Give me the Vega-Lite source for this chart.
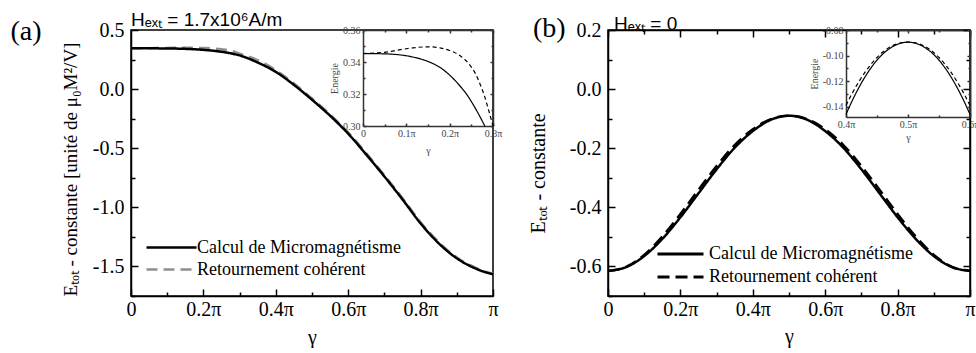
{
 "$schema": "https://vega.github.io/schema/vega-lite/v6.json",
 "padding": {"left": 9, "top": 10, "right": 0, "bottom": 0},
 "spacing": 115,
 "bounds": "flush",
 "datasets": {
  "a_main": [
   {"s":"Retournement cohérent","g":0,"E":0.345},{"s":"Retournement cohérent","g":0.05,"E":0.3462},{"s":"Retournement cohérent","g":0.1,"E":0.3483},{"s":"Retournement cohérent","g":0.15,"E":0.3494},{"s":"Retournement cohérent","g":0.2,"E":0.3472},{"s":"Retournement cohérent","g":0.225,"E":0.3435},{"s":"Retournement cohérent","g":0.25,"E":0.337},{"s":"Retournement cohérent","g":0.275,"E":0.326},{"s":"Retournement cohérent","g":0.3,"E":0.30},{"s":"Retournement cohérent","g":0.35,"E":0.245},{"s":"Retournement cohérent","g":0.4,"E":0.16},{"s":"Retournement cohérent","g":0.45,"E":0.048},{"s":"Retournement cohérent","g":0.5,"E":-0.08},{"s":"Retournement cohérent","g":0.55,"E":-0.215},{"s":"Retournement cohérent","g":0.6,"E":-0.367},{"s":"Retournement cohérent","g":0.65,"E":-0.544},{"s":"Retournement cohérent","g":0.7,"E":-0.729},{"s":"Retournement cohérent","g":0.75,"E":-0.923},{"s":"Retournement cohérent","g":0.8,"E":-1.126},{"s":"Retournement cohérent","g":0.85,"E":-1.295},{"s":"Retournement cohérent","g":0.9,"E":-1.424},{"s":"Retournement cohérent","g":0.925,"E":-1.471},{"s":"Retournement cohérent","g":0.95,"E":-1.509},{"s":"Retournement cohérent","g":0.975,"E":-1.54},{"s":"Retournement cohérent","g":1,"E":-1.561},
   {"s":"Calcul de Micromagnétisme","g":0,"E":0.345},{"s":"Calcul de Micromagnétisme","g":0.05,"E":0.3449},{"s":"Calcul de Micromagnétisme","g":0.1,"E":0.3438},{"s":"Calcul de Micromagnétisme","g":0.15,"E":0.3405},{"s":"Calcul de Micromagnétisme","g":0.2,"E":0.332},{"s":"Calcul de Micromagnétisme","g":0.225,"E":0.3255},{"s":"Calcul de Micromagnétisme","g":0.25,"E":0.316},{"s":"Calcul de Micromagnétisme","g":0.275,"E":0.303},{"s":"Calcul de Micromagnétisme","g":0.3,"E":0.285},{"s":"Calcul de Micromagnétisme","g":0.35,"E":0.225},{"s":"Calcul de Micromagnétisme","g":0.4,"E":0.146},{"s":"Calcul de Micromagnétisme","g":0.45,"E":0.036},{"s":"Calcul de Micromagnétisme","g":0.5,"E":-0.09},{"s":"Calcul de Micromagnétisme","g":0.55,"E":-0.225},{"s":"Calcul de Micromagnétisme","g":0.6,"E":-0.377},{"s":"Calcul de Micromagnétisme","g":0.65,"E":-0.554},{"s":"Calcul de Micromagnétisme","g":0.7,"E":-0.739},{"s":"Calcul de Micromagnétisme","g":0.75,"E":-0.933},{"s":"Calcul de Micromagnétisme","g":0.8,"E":-1.136},{"s":"Calcul de Micromagnétisme","g":0.85,"E":-1.304},{"s":"Calcul de Micromagnétisme","g":0.9,"E":-1.431},{"s":"Calcul de Micromagnétisme","g":0.925,"E":-1.478},{"s":"Calcul de Micromagnétisme","g":0.95,"E":-1.515},{"s":"Calcul de Micromagnétisme","g":0.975,"E":-1.545},{"s":"Calcul de Micromagnétisme","g":1,"E":-1.566}
  ],
  "a_inset": [
   {"s":"Calcul de Micromagnétisme","g":0,"E":0.3453},{"s":"Calcul de Micromagnétisme","g":0.03,"E":0.3452},{"s":"Calcul de Micromagnétisme","g":0.06,"E":0.345},{"s":"Calcul de Micromagnétisme","g":0.08,"E":0.3446},{"s":"Calcul de Micromagnétisme","g":0.1,"E":0.3439},{"s":"Calcul de Micromagnétisme","g":0.12,"E":0.3428},{"s":"Calcul de Micromagnétisme","g":0.14,"E":0.3413},{"s":"Calcul de Micromagnétisme","g":0.16,"E":0.3392},{"s":"Calcul de Micromagnétisme","g":0.18,"E":0.3362},{"s":"Calcul de Micromagnétisme","g":0.2,"E":0.3318},{"s":"Calcul de Micromagnétisme","g":0.22,"E":0.3262},{"s":"Calcul de Micromagnétisme","g":0.24,"E":0.3195},{"s":"Calcul de Micromagnétisme","g":0.26,"E":0.3107},{"s":"Calcul de Micromagnétisme","g":0.27,"E":0.3058},{"s":"Calcul de Micromagnétisme","g":0.281,"E":0.30},
   {"s":"Retournement cohérent","g":0,"E":0.3453},{"s":"Retournement cohérent","g":0.03,"E":0.3456},{"s":"Retournement cohérent","g":0.06,"E":0.3464},{"s":"Retournement cohérent","g":0.08,"E":0.3474},{"s":"Retournement cohérent","g":0.1,"E":0.3483},{"s":"Retournement cohérent","g":0.12,"E":0.349},{"s":"Retournement cohérent","g":0.14,"E":0.3494},{"s":"Retournement cohérent","g":0.16,"E":0.3494},{"s":"Retournement cohérent","g":0.18,"E":0.3487},{"s":"Retournement cohérent","g":0.2,"E":0.3472},{"s":"Retournement cohérent","g":0.21,"E":0.3461},{"s":"Retournement cohérent","g":0.22,"E":0.3446},{"s":"Retournement cohérent","g":0.23,"E":0.3427},{"s":"Retournement cohérent","g":0.24,"E":0.3402},{"s":"Retournement cohérent","g":0.25,"E":0.3368},{"s":"Retournement cohérent","g":0.26,"E":0.3325},{"s":"Retournement cohérent","g":0.27,"E":0.3263},{"s":"Retournement cohérent","g":0.28,"E":0.319},{"s":"Retournement cohérent","g":0.29,"E":0.3098},{"s":"Retournement cohérent","g":0.3,"E":0.30}
  ],
  "b_main": [
   {"s":"Calcul de Micromagnétisme","g":0,"E":-0.615},{"s":"Calcul de Micromagnétisme","g":0.05,"E":-0.6022},{"s":"Calcul de Micromagnétisme","g":0.1,"E":-0.5649},{"s":"Calcul de Micromagnétisme","g":0.15,"E":-0.5068},{"s":"Calcul de Micromagnétisme","g":0.2,"E":-0.4336},{"s":"Calcul de Micromagnétisme","g":0.25,"E":-0.3525},{"s":"Calcul de Micromagnétisme","g":0.3,"E":-0.2714},{"s":"Calcul de Micromagnétisme","g":0.35,"E":-0.1982},{"s":"Calcul de Micromagnétisme","g":0.4,"E":-0.142},{"s":"Calcul de Micromagnétisme","g":0.45,"E":-0.1035},{"s":"Calcul de Micromagnétisme","g":0.5,"E":-0.09},{"s":"Calcul de Micromagnétisme","g":0.55,"E":-0.1035},{"s":"Calcul de Micromagnétisme","g":0.6,"E":-0.142},{"s":"Calcul de Micromagnétisme","g":0.65,"E":-0.1982},{"s":"Calcul de Micromagnétisme","g":0.7,"E":-0.2714},{"s":"Calcul de Micromagnétisme","g":0.75,"E":-0.3525},{"s":"Calcul de Micromagnétisme","g":0.8,"E":-0.4336},{"s":"Calcul de Micromagnétisme","g":0.85,"E":-0.5068},{"s":"Calcul de Micromagnétisme","g":0.9,"E":-0.5649},{"s":"Calcul de Micromagnétisme","g":0.95,"E":-0.6022},{"s":"Calcul de Micromagnétisme","g":1,"E":-0.615},
   {"s":"Retournement cohérent","g":0,"E":-0.615},{"s":"Retournement cohérent","g":0.05,"E":-0.6012},{"s":"Retournement cohérent","g":0.1,"E":-0.5609},{"s":"Retournement cohérent","g":0.15,"E":-0.4988},{"s":"Retournement cohérent","g":0.2,"E":-0.4226},{"s":"Retournement cohérent","g":0.25,"E":-0.3405},{"s":"Retournement cohérent","g":0.3,"E":-0.2604},{"s":"Retournement cohérent","g":0.35,"E":-0.1892},{"s":"Retournement cohérent","g":0.4,"E":-0.136},{"s":"Retournement cohérent","g":0.45,"E":-0.1015},{"s":"Retournement cohérent","g":0.5,"E":-0.09},{"s":"Retournement cohérent","g":0.55,"E":-0.1015},{"s":"Retournement cohérent","g":0.6,"E":-0.136},{"s":"Retournement cohérent","g":0.65,"E":-0.1892},{"s":"Retournement cohérent","g":0.7,"E":-0.2604},{"s":"Retournement cohérent","g":0.75,"E":-0.3405},{"s":"Retournement cohérent","g":0.8,"E":-0.4226},{"s":"Retournement cohérent","g":0.85,"E":-0.4988},{"s":"Retournement cohérent","g":0.9,"E":-0.5609},{"s":"Retournement cohérent","g":0.95,"E":-0.6012},{"s":"Retournement cohérent","g":1,"E":-0.615}
  ],
  "b_inset": [
   {"s":"Calcul de Micromagnétisme","g":0.4,"E":-0.146},{"s":"Calcul de Micromagnétisme","g":0.41,"E":-0.1353},{"s":"Calcul de Micromagnétisme","g":0.42,"E":-0.1257},{"s":"Calcul de Micromagnétisme","g":0.43,"E":-0.1172},{"s":"Calcul de Micromagnétisme","g":0.44,"E":-0.1098},{"s":"Calcul de Micromagnétisme","g":0.45,"E":-0.1036},{"s":"Calcul de Micromagnétisme","g":0.46,"E":-0.0985},{"s":"Calcul de Micromagnétisme","g":0.47,"E":-0.0946},{"s":"Calcul de Micromagnétisme","g":0.48,"E":-0.0918},{"s":"Calcul de Micromagnétisme","g":0.49,"E":-0.0901},{"s":"Calcul de Micromagnétisme","g":0.5,"E":-0.0895},{"s":"Calcul de Micromagnétisme","g":0.51,"E":-0.0901},{"s":"Calcul de Micromagnétisme","g":0.52,"E":-0.0918},{"s":"Calcul de Micromagnétisme","g":0.53,"E":-0.0946},{"s":"Calcul de Micromagnétisme","g":0.54,"E":-0.0985},{"s":"Calcul de Micromagnétisme","g":0.55,"E":-0.1036},{"s":"Calcul de Micromagnétisme","g":0.56,"E":-0.1098},{"s":"Calcul de Micromagnétisme","g":0.57,"E":-0.1172},{"s":"Calcul de Micromagnétisme","g":0.58,"E":-0.1257},{"s":"Calcul de Micromagnétisme","g":0.59,"E":-0.1353},{"s":"Calcul de Micromagnétisme","g":0.6,"E":-0.146},
   {"s":"Retournement cohérent","g":0.4,"E":-0.139},{"s":"Retournement cohérent","g":0.41,"E":-0.1295},{"s":"Retournement cohérent","g":0.42,"E":-0.121},{"s":"Retournement cohérent","g":0.43,"E":-0.1135},{"s":"Retournement cohérent","g":0.44,"E":-0.107},{"s":"Retournement cohérent","g":0.45,"E":-0.1015},{"s":"Retournement cohérent","g":0.46,"E":-0.097},{"s":"Retournement cohérent","g":0.47,"E":-0.0935},{"s":"Retournement cohérent","g":0.48,"E":-0.0912},{"s":"Retournement cohérent","g":0.49,"E":-0.0899},{"s":"Retournement cohérent","g":0.5,"E":-0.0895},{"s":"Retournement cohérent","g":0.51,"E":-0.0899},{"s":"Retournement cohérent","g":0.52,"E":-0.0912},{"s":"Retournement cohérent","g":0.53,"E":-0.0935},{"s":"Retournement cohérent","g":0.54,"E":-0.097},{"s":"Retournement cohérent","g":0.55,"E":-0.1015},{"s":"Retournement cohérent","g":0.56,"E":-0.107},{"s":"Retournement cohérent","g":0.57,"E":-0.1135},{"s":"Retournement cohérent","g":0.58,"E":-0.121},{"s":"Retournement cohérent","g":0.59,"E":-0.1295},{"s":"Retournement cohérent","g":0.6,"E":-0.139}
  ]
 },
 "hconcat": [
  {
   "width": 362, "height": 266,
   "layer": [
    {
     "data": {"name": "a_main"},
     "mark": {"type": "line", "strokeWidth": 2.5, "interpolate": "monotone"},
     "encoding": {
      "x": {"field": "g", "type": "quantitative", "scale": {"domain": [0, 1], "nice": false, "zero": false},
       "axis": {"orient": "bottom", "values": [0,0.1,0.2,0.3,0.4,0.5,0.6,0.7,0.8,0.9,1],
        "labelExpr": "datum.value == 0 ? '0' : (datum.value == 1 ? 'π' : (round(datum.value*10) % 2 == 0 ? format(datum.value, '.1f') + 'π' : ''))",
        "tickSize": {"condition": {"test": "round(datum.value*10) % 2 == 0", "value": -7}, "value": -4},
        "labelPadding": 10, "labelFontSize": 20, "title": "γ", "titleFontSize": 20, "titlePadding": 5}},
      "y": {"field": "E", "type": "quantitative", "scale": {"domain": [-1.75, 0.5], "nice": false, "zero": false},
       "axis": {"orient": "left", "values": [-1.75,-1.5,-1.25,-1,-0.75,-0.5,-0.25,0,0.25,0.5],
        "labelExpr": "round(datum.value*4) % 2 == 0 ? (datum.value < 0 ? '-' + format(-datum.value, '.1f') : format(datum.value, '.1f')) : ''",
        "tickSize": {"condition": {"test": "round(datum.value*4) % 2 == 0", "value": -7}, "value": -4},
        "labelPadding": 14, "labelFontSize": 20, "title": "Eₜₒₜ - constante [unité de μ₀M²/V]", "titleFontSize": 19, "titlePadding": 12, "titleY": 139}},
      "color": {"field": "s", "type": "nominal", "scale": {"domain": ["Calcul de Micromagnétisme", "Retournement cohérent"], "range": ["#000000", "#8f8f8f"]},
       "legend": {"title": null, "orient": "none", "legendX": 11.5, "legendY": 208.5, "symbolType": "M-1,0H9", "symbolSize": 100, "symbolStrokeWidth": 2.5, "labelFont": "Liberation Serif", "labelFontSize": 18, "labelColor": "black", "labelOffset": 36.5, "rowPadding": 4, "padding": 0, "labelLimit": 400}},
      "strokeDash": {"field": "s", "type": "nominal", "scale": {"domain": ["Calcul de Micromagnétisme", "Retournement cohérent"], "range": [[1,0],[11,6]]},
       "legend": {"title": null, "orient": "none", "legendX": 11.5, "legendY": 208.5, "symbolType": "M-1,0H9", "symbolSize": 100, "symbolStrokeWidth": 2.5, "labelFont": "Liberation Serif", "labelFontSize": 18, "labelColor": "black", "labelOffset": 36.5, "rowPadding": 4, "padding": 0, "labelLimit": 400}}
     }
    },
    {
     "data": {"name": "a_inset"},
     "mark": {"type": "line", "strokeWidth": 1.2, "color": "black", "interpolate": "monotone"},
     "encoding": {
      "x": {"field": "g", "type": "quantitative", "scale": {"domain": [0, 0.3], "range": [232, 362], "nice": false, "zero": false},
       "axis": {"orient": "bottom", "offset": -170, "values": [0,0.05,0.1,0.15,0.2,0.25,0.3],
        "labelExpr": "datum.value == 0 ? '0' : (round(datum.value*20) % 2 == 0 ? format(datum.value, '.1f') + 'π' : '')",
        "tickSize": {"condition": {"test": "round(datum.value*20) % 2 == 0", "value": -3}, "value": -2},
        "labelPadding": 5, "labelFontSize": 10, "labelColor": "#444", "domainColor": "#333", "tickColor": "#333", "title": "γ", "titleFontSize": 10, "titleColor": "#444", "titlePadding": 6}},
      "y": {"field": "E", "type": "quantitative", "scale": {"domain": [0.30, 0.36], "range": [96, 0], "nice": false, "zero": false},
       "axis": {"orient": "left", "offset": -232, "values": [0.30,0.31,0.32,0.33,0.34,0.35,0.36],
        "labelExpr": "round(datum.value*100) % 2 == 0 ? format(datum.value, '.2f') : ''",
        "tickSize": {"condition": {"test": "round(datum.value*100) % 2 == 0", "value": -3}, "value": -2},
        "labelPadding": 6, "labelFontSize": 10, "labelColor": "#444", "domainColor": "#333", "tickColor": "#333", "title": "Energie", "titleFontSize": 10, "titleColor": "#444", "titlePadding": 3}},
      "strokeDash": {"field": "s", "type": "nominal", "scale": {"domain": ["Calcul de Micromagnétisme", "Retournement cohérent"], "range": [[1,0],[4,3]]}, "legend": null}
     }
    },
    {
     "data": {"name": "a_inset"},
     "mark": {"type": "line", "opacity": 0},
     "encoding": {
      "x": {"field": "g", "type": "quantitative", "scale": {"domain": [0, 0.3], "range": [232, 362], "nice": false, "zero": false},
       "axis": {"orient": "top", "values": [0,0.05,0.1,0.15,0.2,0.25,0.3], "labels": false, "title": null, "domainColor": "#333", "tickColor": "#333",
        "tickSize": {"condition": {"test": "round(datum.value*20) % 2 == 0", "value": -3}, "value": -2}}},
      "y": {"field": "E", "type": "quantitative", "scale": {"domain": [0.30, 0.36], "range": [96, 0], "nice": false, "zero": false},
       "axis": {"orient": "right", "values": [0.30,0.31,0.32,0.33,0.34,0.35,0.36], "labels": false, "title": null, "domainColor": "#333", "tickColor": "#333",
        "tickSize": {"condition": {"test": "round(datum.value*100) % 2 == 0", "value": -3}, "value": -2}}}
     }
    },
    {
     "data": {"values": [{"label": "(a)"}]},
     "mark": {"type": "text", "font": "Liberation Serif", "fontSize": 28, "align": "center", "baseline": "middle", "color": "black"},
     "encoding": {
      "x": {"datum": -0.29, "type": "quantitative", "scale": {"domain": [0, 1], "nice": false, "zero": false}, "axis": null},
      "y": {"datum": 0.483, "type": "quantitative", "scale": {"domain": [-1.75, 0.5], "nice": false, "zero": false}, "axis": null},
      "text": {"field": "label"}
     }
    },
    {
     "data": {"values": [{"label": "Hₑₓₜ = 1.7x10⁶A/m"}]},
     "mark": {"type": "text", "font": "Liberation Sans", "fontSize": 19, "align": "left", "baseline": "alphabetic", "color": "black"},
     "encoding": {
      "x": {"datum": 0, "type": "quantitative", "scale": {"domain": [0, 1], "nice": false, "zero": false}, "axis": null},
      "y": {"datum": 0.5337, "type": "quantitative", "scale": {"domain": [-1.75, 0.5], "nice": false, "zero": false}, "axis": null},
      "text": {"field": "label"}
     }
    }
   ],
   "resolve": {"scale": {"x": "independent", "y": "independent", "color": "independent", "strokeDash": "independent"}}
  },
  {
   "width": 362, "height": 266,
   "layer": [
    {
     "data": {"name": "b_main"},
     "mark": {"type": "line", "strokeWidth": 2.5, "interpolate": "monotone"},
     "encoding": {
      "x": {"field": "g", "type": "quantitative", "scale": {"domain": [0, 1], "nice": false, "zero": false},
       "axis": {"orient": "bottom", "values": [0,0.1,0.2,0.3,0.4,0.5,0.6,0.7,0.8,0.9,1],
        "labelExpr": "datum.value == 0 ? '0' : (datum.value == 1 ? 'π' : (round(datum.value*10) % 2 == 0 ? format(datum.value, '.1f') + 'π' : ''))",
        "tickSize": {"condition": {"test": "round(datum.value*10) % 2 == 0", "value": -7}, "value": -4},
        "labelPadding": 10, "labelFontSize": 20, "title": "γ", "titleFontSize": 20, "titlePadding": 4}},
      "y": {"field": "E", "type": "quantitative", "scale": {"domain": [-0.7, 0.2], "nice": false, "zero": false},
       "axis": {"orient": "left", "values": [-0.7,-0.6,-0.5,-0.4,-0.3,-0.2,-0.1,0,0.1,0.2],
        "labelExpr": "round(datum.value*10) % 2 == 0 ? (datum.value < 0 ? '-' + format(-datum.value, '.1f') : format(datum.value, '.1f')) : ''",
        "tickSize": {"condition": {"test": "round(datum.value*10) % 2 == 0", "value": -7}, "value": -4},
        "labelPadding": 14, "labelFontSize": 20, "title": "Eₜₒₜ - constante", "titleFontSize": 20, "titlePadding": 21, "titleY": 143}},
      "color": {"field": "s", "type": "nominal", "scale": {"domain": ["Calcul de Micromagnétisme", "Retournement cohérent"], "range": ["#000000", "#000000"]},
       "legend": {"title": null, "orient": "none", "legendX": 45.5, "legendY": 215, "symbolType": "M-1,0H8.2", "symbolSize": 100, "symbolStrokeWidth": 3, "labelFont": "Liberation Serif", "labelFontSize": 18, "labelColor": "black", "labelOffset": 37.5, "rowPadding": 5, "padding": 0, "labelLimit": 400}},
      "strokeDash": {"field": "s", "type": "nominal", "scale": {"domain": ["Calcul de Micromagnétisme", "Retournement cohérent"], "range": [[1,0],[12,6]]},
       "legend": {"title": null, "orient": "none", "legendX": 45.5, "legendY": 215, "symbolType": "M-1,0H8.2", "symbolSize": 100, "symbolStrokeWidth": 3, "labelFont": "Liberation Serif", "labelFontSize": 18, "labelColor": "black", "labelOffset": 37.5, "rowPadding": 5, "padding": 0, "labelLimit": 400}}
     }
    },
    {
     "data": {"name": "b_main"},
     "mark": {"type": "line", "opacity": 0},
     "encoding": {
      "x": {"field": "g", "type": "quantitative", "scale": {"domain": [0, 1], "nice": false, "zero": false},
       "axis": {"orient": "top", "values": [0,0.1,0.2,0.3,0.4,0.5,0.6,0.7,0.8,0.9,1], "labels": false, "title": null,
        "tickSize": {"condition": {"test": "round(datum.value*10) % 2 == 0", "value": -7}, "value": -4}}},
      "y": {"field": "E", "type": "quantitative", "scale": {"domain": [-0.7, 0.2], "nice": false, "zero": false},
       "axis": {"orient": "right", "values": [-0.7,-0.6,-0.5,-0.4,-0.3,-0.2,-0.1,0,0.1,0.2], "labels": false, "title": null,
        "tickSize": {"condition": {"test": "round(datum.value*10) % 2 == 0", "value": -7}, "value": -4}}}
     }
    },
    {
     "data": {"name": "b_inset"},
     "mark": {"type": "line", "strokeWidth": 1.2, "color": "black", "interpolate": "monotone"},
     "encoding": {
      "x": {"field": "g", "type": "quantitative", "scale": {"domain": [0.4, 0.6], "range": [238, 362], "nice": false, "zero": false},
       "axis": {"orient": "bottom", "offset": -179, "values": [0.4,0.45,0.5,0.55,0.6],
        "labelExpr": "round(datum.value*20) % 2 == 0 ? format(datum.value, '.1f') + 'π' : ''",
        "tickSize": {"condition": {"test": "round(datum.value*20) % 2 == 0", "value": -3}, "value": -2},
        "labelPadding": 5, "labelFontSize": 10, "labelColor": "#444", "domainColor": "#333", "tickColor": "#333", "title": "γ", "titleFontSize": 10, "titleColor": "#444", "titlePadding": 2}},
      "y": {"field": "E", "type": "quantitative", "scale": {"domain": [-0.148, -0.08], "range": [87, 0], "nice": false, "zero": false},
       "axis": {"orient": "left", "offset": -238, "values": [-0.14,-0.13,-0.12,-0.11,-0.1,-0.09,-0.08],
        "labelExpr": "round(datum.value*100) % 2 == 0 ? '-' + format(-datum.value, '.2f') : ''",
        "tickSize": {"condition": {"test": "round(datum.value*100) % 2 == 0", "value": -3}, "value": -2},
        "labelPadding": 6, "labelFontSize": 10, "labelColor": "#444", "domainColor": "#333", "tickColor": "#333", "title": "Energie", "titleFontSize": 10, "titleColor": "#444", "titlePadding": 3}},
      "strokeDash": {"field": "s", "type": "nominal", "scale": {"domain": ["Calcul de Micromagnétisme", "Retournement cohérent"], "range": [[1,0],[4,3]]}, "legend": null}
     }
    },
    {
     "data": {"name": "b_inset"},
     "mark": {"type": "line", "opacity": 0},
     "encoding": {
      "x": {"field": "g", "type": "quantitative", "scale": {"domain": [0.4, 0.6], "range": [238, 362], "nice": false, "zero": false},
       "axis": {"orient": "top", "values": [0.4,0.45,0.5,0.55,0.6], "labels": false, "title": null, "domainColor": "#333", "tickColor": "#333",
        "tickSize": {"condition": {"test": "round(datum.value*20) % 2 == 0", "value": -3}, "value": -2}}},
      "y": {"field": "E", "type": "quantitative", "scale": {"domain": [-0.148, -0.08], "range": [87, 0], "nice": false, "zero": false},
       "axis": {"orient": "right", "values": [-0.14,-0.13,-0.12,-0.11,-0.1,-0.09,-0.08], "labels": false, "title": null, "domainColor": "#333", "tickColor": "#333",
        "tickSize": {"condition": {"test": "round(datum.value*100) % 2 == 0", "value": -3}, "value": -2}}}
     }
    },
    {
     "data": {"values": [{"label": "(b)"}]},
     "mark": {"type": "text", "font": "Liberation Serif", "fontSize": 28, "align": "center", "baseline": "middle", "color": "black"},
     "encoding": {
      "x": {"datum": -0.162, "type": "quantitative", "scale": {"domain": [0, 1], "nice": false, "zero": false}, "axis": null},
      "y": {"datum": 0.2017, "type": "quantitative", "scale": {"domain": [-0.7, 0.2], "nice": false, "zero": false}, "axis": null},
      "text": {"field": "label"}
     }
    },
    {
     "data": {"values": [{"label": "Hₑₓₜ = 0"}]},
     "mark": {"type": "text", "font": "Liberation Sans", "fontSize": 19, "align": "left", "baseline": "alphabetic", "color": "black"},
     "encoding": {
      "x": {"datum": 0.0166, "type": "quantitative", "scale": {"domain": [0, 1], "nice": false, "zero": false}, "axis": null},
      "y": {"datum": 0.2, "type": "quantitative", "scale": {"domain": [-0.7, 0.2], "nice": false, "zero": false}, "axis": null},
      "text": {"field": "label"}
     }
    }
   ],
   "resolve": {"scale": {"x": "independent", "y": "independent", "color": "independent", "strokeDash": "independent"}}
  }
 ],
 "config": {
  "font": "Liberation Serif",
  "view": {"stroke": "black", "strokeWidth": 1.5},
  "legend": {"labelFont": "Liberation Serif"},
  "axis": {"grid": false, "minExtent": 0, "labelFont": "Liberation Serif", "titleFont": "Liberation Serif", "labelColor": "black", "titleColor": "black", "domainColor": "black", "tickColor": "black", "titleFontWeight": "normal", "labelFlush": false, "labelOverlap": false, "tickWidth": 1.5, "domainWidth": 1.5}
 }
}
